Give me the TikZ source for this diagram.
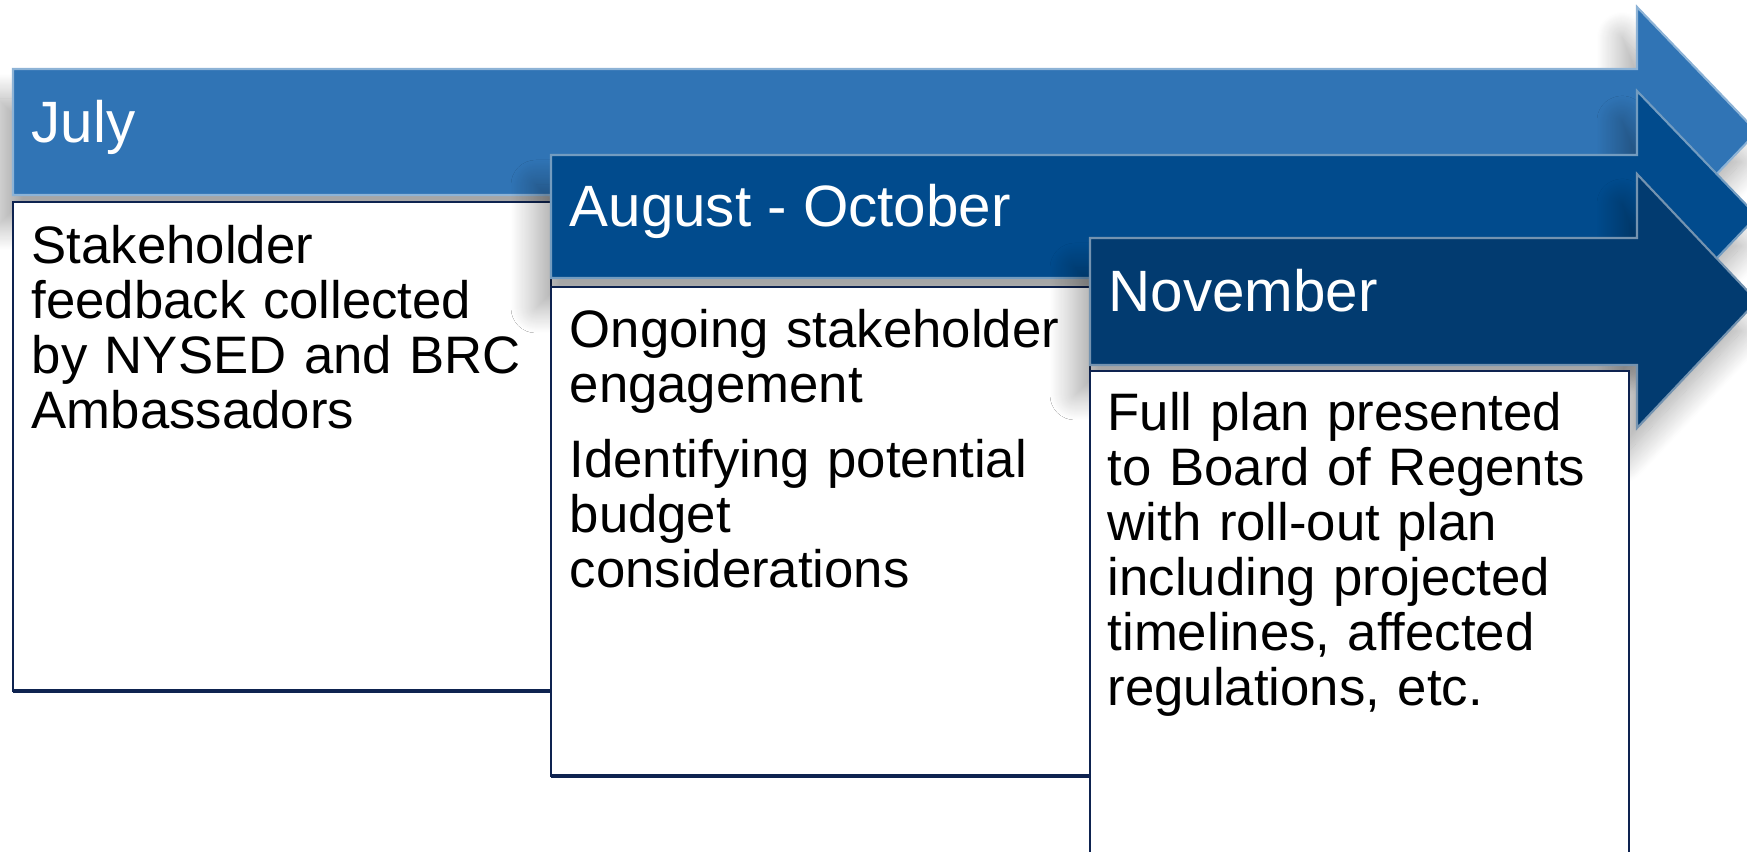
\documentclass[tikz,border=0pt]{standalone}
\usepackage{fontspec}
\setmainfont{Liberation Sans}
\usetikzlibrary{shadows.blur}

\definecolor{julyblue}{RGB}{48,116,181}
\definecolor{augblue}{RGB}{1,75,141}
\definecolor{novblue}{RGB}{2,59,112}
\definecolor{boxline}{RGB}{14,35,80}

\tikzset{
  montharrow/.style={fill=#1, draw=#1!55!white, line width=0.6pt,
    blur shadow={shadow xshift=-1.5mm, shadow yshift=-3mm, shadow blur radius=2.5mm, shadow blur steps=25, shadow opacity=35}},
  monthbox/.style={fill=white, draw=boxline, line width=0.5pt},
  boxfoot/.style={draw=boxline, line width=1.1pt},
  monthname/.style={anchor=base west, inner sep=0pt, text=white, font=\fontsize{16.6pt}{19pt}\selectfont},
  monthtext/.style={anchor=base west, inner sep=0pt, text width=5.1cm, align=left, font=\fontsize{15pt}{15.6pt}\selectfont}
}

\begin{document}
\begin{tikzpicture}[x=0.1mm, y=-0.1mm]
      \useasboundingbox (0,0) rectangle (1747,852);
      \clip (0,0) rectangle (1747,852);
      \draw[montharrow=julyblue] (13,69) -- (1637,69) -- (1637,7) -- (1757,132) -- (1637,257) -- (1637,195) -- (13,195) -- cycle;
      \draw[monthbox] (13,202) rectangle (551,691);
      \draw[boxfoot] (13,691) -- (551,691);
      \draw[montharrow=augblue] (551,155) -- (1637,155) -- (1637,91) -- (1757,216) -- (1637,342) -- (1637,278) -- (551,278) -- cycle;
      \draw[monthbox] (551,287) rectangle (1090,776);
      \draw[boxfoot] (551,776) -- (1090,776);
      \draw[montharrow=novblue] (1090,238) -- (1637,238) -- (1637,174) -- (1757,301) -- (1637,428) -- (1637,365) -- (1090,365) -- cycle;
      \draw[monthbox] (1090,371) rectangle (1629,900);
      \node[monthname] (july) at (31,143) {July};
      \node[monthname] (aug) at (569,227) {August - October};
      \node[monthname] (nov) at (1108,312) {November};
      \node[monthtext] (julytext) at (31,264) {Stakeholder\\ feedback collected\\ by NYSED and BRC\\ Ambassadors};
      \node[monthtext] (augtext) at (569,348) {Ongoing stakeholder\\ engagement\\[0.2cm] Identifying potential\\ budget\\ considerations};
      \node[monthtext] (novtext) at (1107,431) {Full plan presented\\ to Board of Regents\\ with roll-out plan\\ including projected\\ timelines, affected\\ regulations, etc.};
    \end{tikzpicture}
\end{document}
